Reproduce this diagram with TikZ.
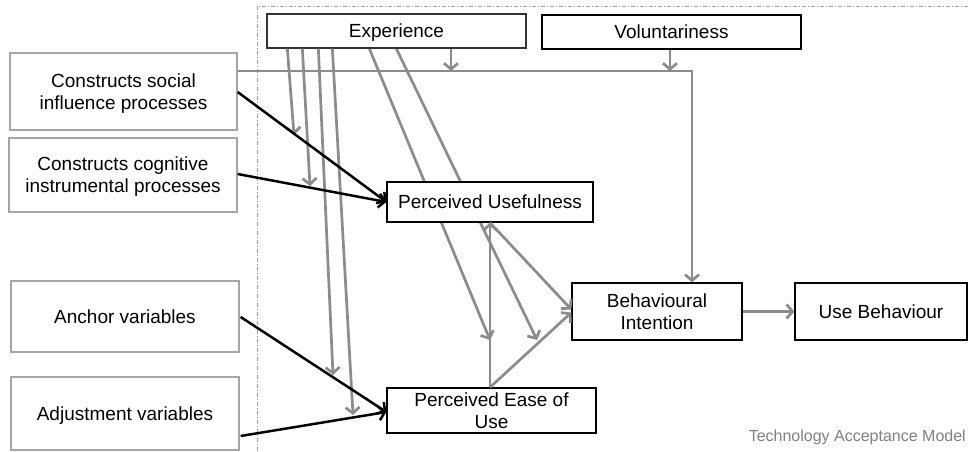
\documentclass[tikz,border=0pt]{standalone}
\usepackage{fontspec}
\setmainfont{Liberation Sans}
\usetikzlibrary{arrows.meta,backgrounds,calc}
\definecolor{arrgray}{HTML}{8C8C8C}
\definecolor{boxgray}{HTML}{A6A6A6}
\definecolor{framegray}{HTML}{A0A0A0}
\definecolor{capgray}{HTML}{808080}
\begin{document}
\begin{tikzpicture}[x=1pt,y=-1pt,
  every node/.style={font=\fontsize{19}{22}\selectfont, align=center, inner sep=0pt},
  boxk/.style={draw=black, line width=1.3pt, fill=white, text depth=0pt},
  boxg/.style={draw=boxgray, line width=1.3pt, fill=white, text depth=0pt},
  garrow/.style={draw=arrgray, line width=2.7pt, -{Straight Barb[length=6pt,width=14pt]}},
  barrow/.style={draw=black, line width=2.5pt, -{Straight Barb[length=6pt,width=14pt]}}
]
\useasboundingbox (0,0) rectangle (969,451);
% frame
\draw[framegray, line width=1pt, dash pattern=on 4pt off 2pt on 1pt off 2pt] (257,451) -- (257,6) -- (969,6);

% nodes
\node[boxk, draw=black!80, minimum width=259pt, minimum height=34pt] (exp) at (396.5,31) {Experience};
\node[boxk, minimum width=259pt, minimum height=34pt] (vol) at (671.5,32) {Voluntariness};
\node[boxg, minimum width=227pt, minimum height=77pt] (csi) at (123.5,91.5) {Constructs social\\influence processes};
\node[boxg, minimum width=228pt, minimum height=74pt] (cci) at (123,175) {Constructs cognitive\\instrumental processes};
\node[boxg, minimum width=228pt, minimum height=71pt] (anc) at (125,316.5) {Anchor variables};
\node[boxg, minimum width=228pt, minimum height=73pt] (adj) at (125,413.5) {Adjustment variables};
\node[boxk, minimum width=206pt, minimum height=40pt] (pu) at (490,202) {Perceived Usefulness};
\node[boxk, minimum width=209pt, minimum height=45pt] (peou) at (491.5,410.5) {Perceived Ease of\\Use};
\node[boxk, minimum width=170pt, minimum height=57pt] (bi) at (657,311.5) {Behavioural\\Intention};
\node[boxk, minimum width=172pt, minimum height=57pt] (ub) at (881,311.5) {Use Behaviour};
\node[anchor=east, text=capgray, font=\fontsize{16}{19}\selectfont] (cap) at (966,437) {Technology Acceptance Model};

% coordinates
\coordinate (hl) at (692,71);
\coordinate (e0) at (451,71);
\coordinate (v0) at (670,71);
\coordinate (m1) at (294,135);
\coordinate (m2) at (310,186);
\coordinate (m3) at (333,375);
\coordinate (m4) at (353,415);
\coordinate (m5) at (490,340);
\coordinate (m6) at (537,340);

% moderator line
\draw[garrow] (csi.east |- hl) -- (hl) -- (hl |- bi.north);
\draw[garrow] (e0 |- exp.south) -- (e0);
\draw[garrow] (v0 |- vol.south) -- (v0);

% experience lines
\draw[garrow] ($(exp.south west)+(21,0)$) -- (m1);
\draw[garrow] ($(exp.south west)+(36,0)$) -- (m2);
\draw[garrow] ($(exp.south west)+(52,0)$) -- (m3);
\draw[garrow] ($(exp.south west)+(66,0)$) -- (m4);
\begin{pgfonlayer}{background}
\draw[garrow] ($(exp.south west)+(103,0)$) -- (m5);
\draw[garrow] ($(exp.south west)+(130,0)$) -- (m6);
\end{pgfonlayer}

% core
\draw[garrow] (pu.south |- peou.north) -- (pu.south);
\draw[garrow] (pu.south) -- ($(bi.west)+(0,-2)$);
\draw[garrow] (pu.south |- peou.north) -- ($(bi.west)+(0,1)$);
\draw[garrow] (bi.east) -- (ub.west);

% black inputs
\draw[barrow] ($(csi.east)+(0,0.5)$) -- (pu.west);
\draw[barrow] ($(cci.east)+(0,-1)$) -- (pu.west);
\draw[barrow] ($(anc.east)+(1,0.5)$) -- ($(peou.west)+(0,1.5)$);
\draw[barrow] ($(adj.east)+(1,22.5)$) -- ($(peou.west)+(0,1.5)$);
\end{tikzpicture}
\end{document}
